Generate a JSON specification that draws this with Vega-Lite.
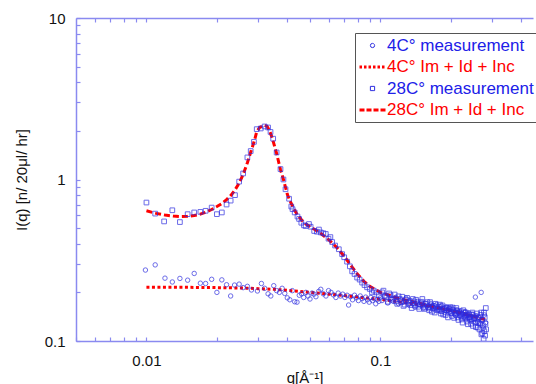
{
 "$schema": "https://vega.github.io/schema/vega-lite/v6.json",
 "width": 457,
 "height": 323,
 "padding": {"left": 14, "top": 11, "right": 0, "bottom": 0},
 "background": "white",
 "config": {"view": {"stroke": null}, "font": "Liberation Sans"},
 "datasets": {
  "fit4": [
   {"q":0.010,"I":0.215},{"q":0.015,"I":0.215},{"q":0.020,"I":0.214},{"q":0.025,"I":0.213},{"q":0.030,"I":0.211},{"q":0.035,"I":0.209},{"q":0.040,"I":0.206},{"q":0.050,"I":0.200},{"q":0.060,"I":0.195},{"q":0.070,"I":0.191},{"q":0.080,"I":0.187},{"q":0.090,"I":0.184},{"q":0.100,"I":0.181},{"q":0.120,"I":0.175},{"q":0.150,"I":0.167},{"q":0.180,"I":0.159},{"q":0.200,"I":0.154},{"q":0.230,"I":0.147},{"q":0.260,"I":0.140},{"q":0.280,"I":0.136}
  ],
  "fit28": [
   {"q":0.010,"I":0.640},{"q":0.011,"I":0.617},{"q":0.012,"I":0.602},{"q":0.013,"I":0.594},{"q":0.014,"I":0.590},{"q":0.015,"I":0.592},{"q":0.016,"I":0.598},{"q":0.017,"I":0.610},{"q":0.018,"I":0.628},{"q":0.019,"I":0.652},{"q":0.020,"I":0.680},{"q":0.021,"I":0.710},{"q":0.022,"I":0.750},{"q":0.023,"I":0.800},{"q":0.024,"I":0.870},{"q":0.025,"I":0.960},{"q":0.026,"I":1.090},{"q":0.027,"I":1.270},{"q":0.028,"I":1.500},{"q":0.029,"I":1.760},{"q":0.0296,"I":1.980},{"q":0.0305,"I":2.100},{"q":0.0318,"I":2.170},{"q":0.0328,"I":2.130},{"q":0.0336,"I":2.000},{"q":0.0345,"I":1.800},{"q":0.036,"I":1.450},{"q":0.0374,"I":1.150},{"q":0.0385,"I":1.000},{"q":0.040,"I":0.810},{"q":0.041,"I":0.740},{"q":0.042,"I":0.690},{"q":0.043,"I":0.645},{"q":0.044,"I":0.610},{"q":0.046,"I":0.562},{"q":0.048,"I":0.530},{"q":0.050,"I":0.510},{"q":0.053,"I":0.485},{"q":0.056,"I":0.460},{"q":0.060,"I":0.425},{"q":0.065,"I":0.380},{"q":0.070,"I":0.335},{"q":0.075,"I":0.292},{"q":0.080,"I":0.258},{"q":0.085,"I":0.234},{"q":0.090,"I":0.218},{"q":0.100,"I":0.200},{"q":0.120,"I":0.183},{"q":0.150,"I":0.170},{"q":0.200,"I":0.155},{"q":0.250,"I":0.142},{"q":0.280,"I":0.136}
  ],
  "m4": [
   {"q":0.0099,"I":0.275},{"q":0.0109,"I":0.296},{"q":0.0120,"I":0.245},{"q":0.0129,"I":0.232},{"q":0.0139,"I":0.244},{"q":0.0150,"I":0.238},{"q":0.0160,"I":0.262},{"q":0.0170,"I":0.228},{"q":0.0179,"I":0.227},{"q":0.0190,"I":0.241},{"q":0.0200,"I":0.200},{"q":0.0210,"I":0.239},{"q":0.0220,"I":0.223},{"q":0.0229,"I":0.190},{"q":0.0238,"I":0.222},{"q":0.0249,"I":0.225},{"q":0.0259,"I":0.214},{"q":0.0270,"I":0.218},{"q":0.0281,"I":0.207},{"q":0.0298,"I":0.204},{"q":0.0310,"I":0.227},{"q":0.0320,"I":0.212},{"q":0.0331,"I":0.196},{"q":0.0340,"I":0.190},{"q":0.0350,"I":0.220},{"q":0.0360,"I":0.205},{"q":0.0370,"I":0.200},{"q":0.0380,"I":0.212},{"q":0.0390,"I":0.197},{"q":0.0400,"I":0.185},{"q":0.0410,"I":0.180},{"q":0.0420,"I":0.205},{"q":0.0430,"I":0.175},{"q":0.0440,"I":0.174},{"q":0.0450,"I":0.192},{"q":0.0460,"I":0.196},{"q":0.0470,"I":0.186},{"q":0.0480,"I":0.200},{"q":0.0490,"I":0.190},{"q":0.0500,"I":0.182},{"q":0.0510,"I":0.198},{"q":0.0520,"I":0.195},{"q":0.0530,"I":0.188},{"q":0.0545,"I":0.203},{"q":0.0556,"I":0.209},{"q":0.0570,"I":0.196},{"q":0.0585,"I":0.190},{"q":0.0600,"I":0.205},{"q":0.0615,"I":0.200},{"q":0.0630,"I":0.193},{"q":0.0645,"I":0.186},{"q":0.0660,"I":0.198},{"q":0.0675,"I":0.190},{"q":0.0690,"I":0.195},{"q":0.0705,"I":0.186},{"q":0.0720,"I":0.192},{"q":0.0731,"I":0.167},{"q":0.0745,"I":0.188},{"q":0.0760,"I":0.180},{"q":0.0775,"I":0.192},{"q":0.0790,"I":0.185},{"q":0.0805,"I":0.178},{"q":0.0820,"I":0.190},{"q":0.0835,"I":0.183},{"q":0.0850,"I":0.176},{"q":0.0865,"I":0.187},{"q":0.0880,"I":0.180},{"q":0.0895,"I":0.174},{"q":0.0910,"I":0.186},{"q":0.0925,"I":0.178},{"q":0.0940,"I":0.183},{"q":0.0955,"I":0.170},{"q":0.0970,"I":0.181},{"q":0.0985,"I":0.176},{"q":0.1000,"I":0.185},
   {"q":0.1015,"I":0.178},{"q":0.1045,"I":0.190},{"q":0.1075,"I":0.172},{"q":0.1105,"I":0.183},{"q":0.1135,"I":0.176},{"q":0.1165,"I":0.186},{"q":0.1195,"I":0.170},{"q":0.1225,"I":0.180},{"q":0.1255,"I":0.174},{"q":0.1285,"I":0.184},{"q":0.1315,"I":0.168},{"q":0.1345,"I":0.178},{"q":0.1375,"I":0.171},{"q":0.1405,"I":0.162},{"q":0.1435,"I":0.176},{"q":0.1465,"I":0.168},{"q":0.1495,"I":0.173},{"q":0.1525,"I":0.160},{"q":0.1555,"I":0.171},{"q":0.1585,"I":0.165},{"q":0.1615,"I":0.158},{"q":0.1645,"I":0.170},{"q":0.1675,"I":0.163},{"q":0.1705,"I":0.156},{"q":0.1735,"I":0.168},{"q":0.1765,"I":0.160},{"q":0.1795,"I":0.154},{"q":0.1825,"I":0.165},{"q":0.1855,"I":0.158},{"q":0.1885,"I":0.150},{"q":0.1915,"I":0.163},{"q":0.1945,"I":0.155},{"q":0.1975,"I":0.160},{"q":0.2005,"I":0.148},{"q":0.2035,"I":0.158},{"q":0.2065,"I":0.153},{"q":0.2095,"I":0.144},{"q":0.2125,"I":0.156},{"q":0.2155,"I":0.150},{"q":0.2185,"I":0.143},{"q":0.2215,"I":0.154},{"q":0.2245,"I":0.147},{"q":0.2275,"I":0.140},{"q":0.2305,"I":0.152},{"q":0.2335,"I":0.144},{"q":0.2365,"I":0.138},{"q":0.2395,"I":0.149},{"q":0.2425,"I":0.141},{"q":0.2455,"I":0.135},{"q":0.2485,"I":0.146},{"q":0.2515,"I":0.138},{"q":0.2545,"I":0.187},{"q":0.2575,"I":0.143},{"q":0.2605,"I":0.132},{"q":0.2635,"I":0.140},{"q":0.2665,"I":0.128},{"q":0.2695,"I":0.200},{"q":0.2725,"I":0.136},{"q":0.2755,"I":0.120},{"q":0.2785,"I":0.145},{"q":0.2815,"I":0.130}
  ],
  "m28": [
   {"q":0.0100,"I":0.720},{"q":0.0109,"I":0.615},{"q":0.0119,"I":0.550},{"q":0.0129,"I":0.645},{"q":0.0139,"I":0.545},{"q":0.0150,"I":0.610},{"q":0.0160,"I":0.625},{"q":0.0170,"I":0.630},{"q":0.0179,"I":0.640},{"q":0.0190,"I":0.670},{"q":0.0200,"I":0.610},{"q":0.0210,"I":0.625},{"q":0.0220,"I":0.700},{"q":0.0229,"I":0.740},{"q":0.0239,"I":0.800},{"q":0.0249,"I":0.970},{"q":0.0259,"I":1.090},{"q":0.0270,"I":1.370},{"q":0.0279,"I":1.500},{"q":0.0288,"I":1.710},{"q":0.0296,"I":2.050},{"q":0.0308,"I":2.070},{"q":0.0320,"I":2.130},{"q":0.0331,"I":2.100},{"q":0.0339,"I":1.970},{"q":0.0348,"I":1.790},{"q":0.0360,"I":1.470},{"q":0.0374,"I":1.160},{"q":0.0385,"I":1.000},{"q":0.0393,"I":0.870},{"q":0.0407,"I":0.760},{"q":0.0416,"I":0.680},{"q":0.0421,"I":0.655},{"q":0.0430,"I":0.625},{"q":0.0442,"I":0.590},{"q":0.0449,"I":0.570},{"q":0.0459,"I":0.540},{"q":0.0471,"I":0.520},{"q":0.0479,"I":0.515},{"q":0.0495,"I":0.530},{"q":0.0503,"I":0.510},{"q":0.0521,"I":0.480},{"q":0.0535,"I":0.475},{"q":0.0546,"I":0.490},{"q":0.0556,"I":0.470},{"q":0.0570,"I":0.465},{"q":0.0584,"I":0.460},{"q":0.0600,"I":0.430},{"q":0.0611,"I":0.440},{"q":0.0622,"I":0.410},{"q":0.0640,"I":0.390},{"q":0.0664,"I":0.370},{"q":0.0686,"I":0.345},{"q":0.0700,"I":0.330},{"q":0.0720,"I":0.310},{"q":0.0740,"I":0.290},{"q":0.0757,"I":0.270},{"q":0.0775,"I":0.260},{"q":0.0795,"I":0.247},{"q":0.0815,"I":0.240},{"q":0.0835,"I":0.230},{"q":0.0855,"I":0.222},{"q":0.0877,"I":0.215},{"q":0.0900,"I":0.210},{"q":0.0920,"I":0.200},{"q":0.0936,"I":0.205},{"q":0.0960,"I":0.200},{"q":0.0985,"I":0.192},{"q":0.1016,"I":0.200},
   {"q":0.103,"I":0.205},{"q":0.106,"I":0.186},{"q":0.109,"I":0.197},{"q":0.112,"I":0.180},{"q":0.115,"I":0.194},{"q":0.118,"I":0.170},{"q":0.121,"I":0.182},{"q":0.124,"I":0.188},{"q":0.127,"I":0.168},{"q":0.130,"I":0.185},{"q":0.133,"I":0.172},{"q":0.136,"I":0.160},{"q":0.139,"I":0.176},{"q":0.142,"I":0.180},{"q":0.145,"I":0.163},{"q":0.148,"I":0.168},{"q":0.151,"I":0.182},{"q":0.154,"I":0.158},{"q":0.157,"I":0.170},{"q":0.160,"I":0.162},{"q":0.163,"I":0.174},{"q":0.166,"I":0.152},{"q":0.169,"I":0.165},{"q":0.172,"I":0.170},{"q":0.175,"I":0.155},{"q":0.178,"I":0.163},{"q":0.181,"I":0.148},{"q":0.184,"I":0.166},{"q":0.187,"I":0.158},{"q":0.190,"I":0.145},{"q":0.193,"I":0.160},{"q":0.196,"I":0.152},{"q":0.199,"I":0.162},{"q":0.202,"I":0.143},{"q":0.205,"I":0.155},{"q":0.208,"I":0.150},{"q":0.211,"I":0.160},{"q":0.214,"I":0.140},{"q":0.217,"I":0.152},{"q":0.220,"I":0.147},{"q":0.223,"I":0.136},{"q":0.226,"I":0.155},{"q":0.229,"I":0.143},{"q":0.232,"I":0.150},{"q":0.235,"I":0.132},{"q":0.238,"I":0.146},{"q":0.241,"I":0.140},{"q":0.244,"I":0.128},{"q":0.247,"I":0.150},{"q":0.250,"I":0.136},{"q":0.253,"I":0.142},{"q":0.256,"I":0.122},{"q":0.259,"I":0.148},{"q":0.262,"I":0.130},{"q":0.265,"I":0.118},{"q":0.268,"I":0.145},{"q":0.270,"I":0.110},{"q":0.272,"I":0.135},{"q":0.274,"I":0.125},{"q":0.276,"I":0.103},{"q":0.277,"I":0.150},{"q":0.278,"I":0.115},{"q":0.279,"I":0.140},{"q":0.280,"I":0.108},{"q":0.281,"I":0.128},{"q":0.282,"I":0.160},{"q":0.283,"I":0.118},
   {"q":0.1045,"I":0.190},{"q":0.1075,"I":0.175},{"q":0.1105,"I":0.192},{"q":0.1135,"I":0.183},{"q":0.1165,"I":0.176},{"q":0.1195,"I":0.189},{"q":0.1225,"I":0.174},{"q":0.1255,"I":0.165},{"q":0.1285,"I":0.180},{"q":0.1315,"I":0.176},{"q":0.1345,"I":0.167},{"q":0.1375,"I":0.182},{"q":0.1405,"I":0.166},{"q":0.1435,"I":0.171},{"q":0.1465,"I":0.158},{"q":0.1495,"I":0.175},{"q":0.1525,"I":0.166},{"q":0.1555,"I":0.161},{"q":0.1585,"I":0.174},{"q":0.1615,"I":0.155},{"q":0.1645,"I":0.166},{"q":0.1675,"I":0.160},{"q":0.1705,"I":0.150},{"q":0.1735,"I":0.162},{"q":0.1765,"I":0.157},{"q":0.1795,"I":0.168},{"q":0.1825,"I":0.153},{"q":0.1855,"I":0.146},{"q":0.1885,"I":0.161},{"q":0.1915,"I":0.155},{"q":0.1945,"I":0.140},{"q":0.1975,"I":0.157},{"q":0.2005,"I":0.150},{"q":0.2035,"I":0.161},{"q":0.2065,"I":0.139},{"q":0.2095,"I":0.146},{"q":0.2125,"I":0.154},{"q":0.2155,"I":0.135},{"q":0.2185,"I":0.149},{"q":0.2215,"I":0.142},{"q":0.2245,"I":0.130},{"q":0.2275,"I":0.150},{"q":0.2305,"I":0.138},{"q":0.2335,"I":0.145},{"q":0.2365,"I":0.127},{"q":0.2395,"I":0.140},{"q":0.2425,"I":0.135},{"q":0.2455,"I":0.146},{"q":0.2485,"I":0.124},{"q":0.2515,"I":0.139},{"q":0.2545,"I":0.130},{"q":0.2575,"I":0.137},{"q":0.2605,"I":0.121},{"q":0.2635,"I":0.140},{"q":0.2665,"I":0.128},{"q":0.2695,"I":0.150},{"q":0.2725,"I":0.112}
  ]
 },
 "layer": [
  {
   "data": {"name": "fit4"},
   "mark": {"type": "line", "strokeWidth": 3, "strokeDash": [3, 2.5], "clip": true},
   "encoding": {
    "x": {"field": "q", "type": "quantitative",
     "scale": {"type": "log", "domain": [0.005, 0.4487], "nice": false},
     "axis": {"orient": "bottom", "values": [0.005,0.006,0.007,0.008,0.009,0.01,0.02,0.03,0.04,0.05,0.06,0.07,0.08,0.09,0.1,0.2,0.3,0.4],
      "labelExpr": "datum.value == 0.01 ? '0.01' : datum.value == 0.1 ? '0.1' : ''",
      "labelOverlap": false, "labelFlush": false,
      "domainColor": "#8a8af0", "domainWidth": 1.5, "tickColor": "#8a8af0", "tickWidth": 1.2,
      "tickSize": -4,
      "labelFontSize": 15, "labelColor": "#111", "labelPadding": 16, "grid": false,
      "title": "q[Å⁻¹]", "titleFontSize": 15, "titleFontWeight": "normal", "titleColor": "#111", "titlePadding": 2}},
    "y": {"field": "I", "type": "quantitative",
     "scale": {"type": "log", "domain": [0.1, 10], "nice": false},
     "axis": {"values": [0.1,0.2,0.3,0.4,0.5,0.6,0.7,0.8,0.9,1,2,3,4,5,6,7,8,9,10],
      "labelExpr": "datum.value == 0.1 ? '0.1' : datum.value == 1 ? '1' : datum.value == 10 ? '10' : ''",
      "labelOverlap": false, "labelFlush": false,
      "domainColor": "#8a8af0", "domainWidth": 1.5, "tickColor": "#8a8af0", "tickWidth": 1.2,
      "tickSize": -4,
      "labelFontSize": 15, "labelColor": "#111", "labelPadding": 15, "grid": false,
      "title": "I(q) [n/ 20μl/ hr]", "titleFontSize": 15, "titleFontWeight": "normal", "titleColor": "#111", "titlePadding": 15}},
    "color": {"datum": "4C° Im + Id + Inc",
     "scale": {"domain": ["4C° measurement", "4C° Im + Id + Inc", "28C° measurement", "28C° Im + Id + Inc"], "range": ["#2d2de0", "#ff0000", "#2d2de0", "#ff0000"]},
     "legend": {"title": null, "orient": "none", "legendX": 279, "legendY": 15,
      "strokeColor": "#555", "padding": 4, "fillColor": "white",
      "symbolType": "stroke", "symbolSize": 324, "symbolOffset": 5, "symbolStrokeWidth": 3, "labelFontSize": 17, "labelFont": "Liberation Sans", "labelLimit": 300, "labelOffset": 6, "rowPadding": 3.5,
      "encode": {
       "symbols": {"update": {
        "shape": {"signal": "datum.value == '4C° measurement' ? 'circle' : (datum.value == '28C° measurement' ? 'square' : 'stroke')"},
        "size": {"signal": "(datum.value == '4C° measurement' || datum.value == '28C° measurement') ? 18 : 676"},
        "strokeWidth": {"signal": "(datum.value == '4C° measurement' || datum.value == '28C° measurement') ? 1 : 3"},
        "strokeDash": {"signal": "datum.value == '4C° Im + Id + Inc' ? [2.5, 2] : (datum.value == '28C° Im + Id + Inc' ? [5, 2] : [10, 0])"}
       }},
       "labels": {"update": {
        "fill": {"signal": "(datum.value == '4C° measurement' || datum.value == '28C° measurement') ? '#2020e8' : '#ff0000'"}
       }}
      }}}
   }
  },
  {
   "data": {"name": "fit28"},
   "mark": {"type": "line", "strokeWidth": 3, "strokeDash": [6, 3], "clip": true},
   "encoding": {
    "x": {"field": "q", "type": "quantitative",
     "axis": {"orient": "top", "values": [0.006,0.007,0.008,0.009,0.01,0.02,0.03,0.04,0.05,0.06,0.07,0.08,0.09,0.1,0.2,0.3,0.4],
      "labels": false, "title": null, "grid": false,
      "domainColor": "#8a8af0", "domainWidth": 1.5, "tickColor": "#8a8af0", "tickWidth": 1.2,
      "tickSize": -4}},
    "y": {"field": "I", "type": "quantitative"},
    "color": {"datum": "28C° Im + Id + Inc"}
   }
  },
  {
   "data": {"name": "m4"},
   "mark": {"type": "point", "shape": "circle", "filled": false, "size": 20, "strokeWidth": 1, "opacity": 0.7, "clip": true},
   "encoding": {
    "x": {"field": "q", "type": "quantitative", "axis": null},
    "y": {"field": "I", "type": "quantitative"},
    "color": {"datum": "4C° measurement"}
   }
  },
  {
   "data": {"name": "m28"},
   "mark": {"type": "point", "shape": "square", "filled": false, "size": 22, "strokeWidth": 1, "opacity": 0.7, "clip": true},
   "encoding": {
    "x": {"field": "q", "type": "quantitative", "axis": null},
    "y": {"field": "I", "type": "quantitative"},
    "color": {"datum": "28C° measurement"}
   }
  }
 ],
 "resolve": {"axis": {"x": "independent"}}
}
